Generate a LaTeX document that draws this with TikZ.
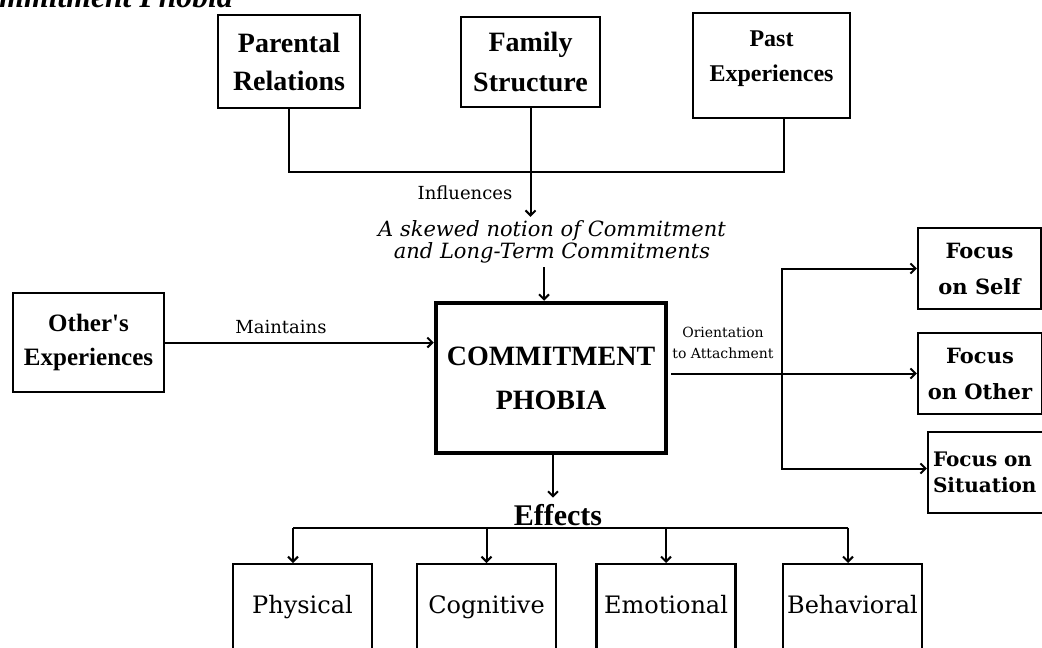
\documentclass[tikz,border=0pt]{standalone}
\usepackage{fontspec}
\setmainfont{Liberation Serif}[Ligatures=TeXOff]
\newfontfamily\dvs{DejaVu Serif}
\usetikzlibrary{arrows.meta}
\begin{document}
\begin{tikzpicture}[x=1pt,y=-1pt,
  tbox/.style={draw, line width=2.3pt, align=center, inner sep=0pt},
  fbox/.style={draw, line width=2.3pt, align=center, inner sep=0pt,
    font=\dvs\bfseries\fontsize{21}{36}\selectfont},
  ebox/.style={draw, line width=2.3pt, anchor=north, minimum width=139pt,
    text height=18pt, text depth=80pt, inner ysep=31pt, inner xsep=0pt,
    font=\dvs\fontsize{24}{28}\selectfont},
  conn/.style={line width=2pt},
  arr/.style={conn, -{Straight Barb[length=5pt,width=10pt]}},
  lbl/.style={font=\dvs\fontsize{18}{20}\selectfont, inner sep=0pt}
]
\useasboundingbox (0,0) rectangle (1042,648);
\fill[white] (0,0) rectangle (1042,648);
\clip (0,0) rectangle (1042,648);

% title (cut off at top)
\node[anchor=base east, inner sep=0pt, font=\bfseries\itshape\fontsize{31.7}{34}\selectfont] (title) at (233,7) {Commitment Phobia};

% top boxes
\node[tbox, minimum width=142pt, minimum height=93pt, font=\bfseries\fontsize{28}{38}\selectfont] (parental) at (289,61.5) {Parental\\Relations};
\node[tbox, minimum width=139pt, minimum height=90pt, font=\bfseries\fontsize{28}{40}\selectfont] (family) at (530.5,62) {Family\\Structure};
\node[tbox, minimum width=157pt, minimum height=105pt, text depth=19pt, font=\bfseries\fontsize{24}{35}\selectfont] (past) at (771.5,65.5) {Past\\Experiences};

\coordinate (hub) at (531,172);
\draw[conn] (parental.south) |- (hub) -| ([xshift=12.5pt]past.south);

\node[lbl, anchor=base] (infl) at (465,199) {Influences};

\node[align=center, inner xsep=2pt, inner ysep=4pt, font=\dvs\itshape\fontsize{21}{19}\selectfont] (skew) at (552,242) {A skewed notion of Commitment\\and Long-Term Commitments};

\draw[arr] (family.south) -- (family.south |- skew.north);

% central box
\node[draw, line width=4.5pt, align=center, inner sep=0pt, minimum width=230pt, minimum height=150pt, font=\bfseries\fontsize{28}{44}\selectfont] (central) at (551,378) {COMMITMENT\\PHOBIA};

\draw[arr] ([xshift=-8pt]skew.south) -- ([xshift=-7pt]central.north);

% left box
\node[tbox, minimum width=151pt, minimum height=99pt, font=\bfseries\fontsize{25}{34}\selectfont] (others) at (88.5,342.5) {Other's\\Experiences};
\node[lbl, anchor=base] (maint) at (281,333) {Maintains};
\draw[arr] (others.east) -- (others.east -| central.west);

% right side
\node[fbox, minimum width=123pt, minimum height=81pt] (self) at (979.5,268.5) {Focus\\on Self};
\node[fbox, minimum width=124pt, minimum height=81pt] (other) at (980,373.5) {Focus\\on Other};
\node[draw, line width=2.3pt, align=left, text width=115pt, inner xsep=5pt, inner ysep=0pt, minimum height=81pt, font=\dvs\bfseries\fontsize{20}{26}\selectfont] (sit) at (990.5,472.5) {Focus on\\Situation};

\node[align=center, inner sep=0pt, font=\dvs\fontsize{14}{21}\selectfont] (orient) at (723,343) {Orientation\\to Attachment};

\coordinate (fork) at (782,373.5);
\draw[conn] (central.east |- fork) ++(3,0) -- (fork);
\draw[arr] (fork) |- (self);
\draw[arr] (fork) -- (other);
\draw[arr] (fork) |- ([yshift=4pt]sit.west);

% effects
\node[anchor=base, inner ysep=6pt, inner xsep=0pt, font=\bfseries\fontsize{30}{32}\selectfont] (effects) at (558,525) {Effects};
\draw[arr] ([xshift=2pt]central.south) -- ([xshift=-5pt]effects.north);

\node[ebox] (phys) at (302.5,563) {Physical};
\node[ebox] (cogn) at (486.5,563) {Cognitive};
\node[ebox] (emot) at (666,563) {Emotional};
\node[ebox] (behav) at (852.5,563) {Behavioral};

\coordinate (barL) at (293,527.5);
\coordinate (barR) at (848,527.5);
\draw[conn] (barL) -- (barR);
\draw[arr] (barL) -- (barL |- phys.north);
\draw[arr] (cogn.north |- barL) -- (cogn.north);
\draw[arr] (emot.north |- barL) -- (emot.north);
\draw[arr] (barR) -- (barR |- behav.north);
\end{tikzpicture}
\end{document}
